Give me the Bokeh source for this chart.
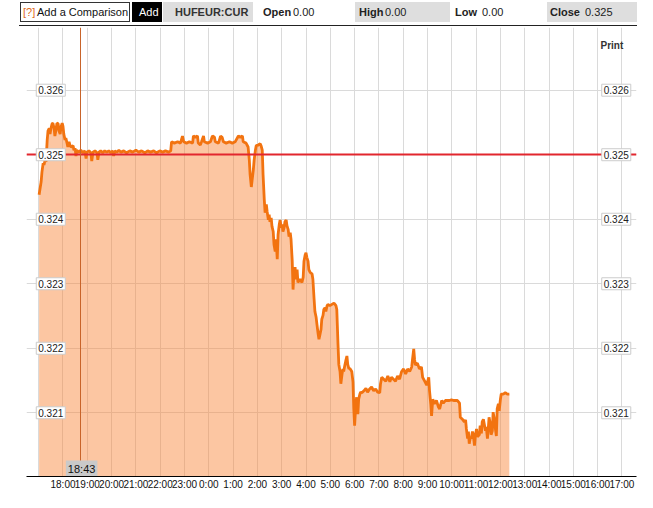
import numpy as np
from bokeh.plotting import figure
from bokeh.models import Range1d, FixedTicker, Grid, Div
from bokeh.layouts import column
from bokeh.core.properties import value
from bokeh.embed import file_html
from bokeh.resources import INLINE

# ---------------- data ----------------
# minutes since 18:00 (day 1) and HUF/EUR rate
minutes_since_1800 = [
    -59, -57, -54, -52, -49, -47, -44, -42, -39, -37, -34, -32, -30, -27, -25, -22, -20, -17, -15, -12,
    -10, -7, -5, -2, 0, 2, 5, 7, 10, 12, 15, 17, 20, 25, 27, 30, 32, 34, 39, 44,
    49, 54, 57, 59, 64, 69, 71, 74, 79, 84, 86, 89, 93, 98, 103, 108, 113, 118, 123, 125,
    128, 133, 138, 143, 150, 157, 165, 172, 180, 187, 194, 202, 209, 216, 224, 231, 239, 246, 253, 261,
    266, 268, 275, 283, 290, 295, 298, 305, 312, 320, 322, 327, 332, 334, 339, 342, 347, 349, 357, 364,
    369, 374, 376, 384, 389, 393, 396, 403, 411, 418, 425, 433, 438, 443, 445, 452, 457, 460, 462, 465,
    467, 470, 472, 475, 477, 482, 487, 489, 492, 494, 497, 499, 502, 504, 507, 509, 511, 514, 516, 519,
    521, 524, 526, 529, 531, 534, 536, 539, 541, 543, 546, 548, 551, 553, 556, 558, 561, 563, 566, 568,
    570, 573, 575, 578, 580, 585, 590, 593, 595, 598, 600, 602, 605, 607, 610, 615, 617, 620, 622, 625,
    627, 630, 632, 634, 637, 639, 642, 644, 647, 649, 652, 654, 659, 664, 669, 674, 676, 679, 681, 684,
    686, 689, 691, 693, 696, 698, 701, 703, 706, 708, 713, 716, 718, 720, 723, 725, 728, 730, 733, 735,
    738, 743, 748, 752, 757, 762, 767, 772, 777, 782, 784, 787, 792, 797, 802, 807, 811, 816, 821, 826,
    831, 836, 841, 846, 851, 856, 861, 863, 866, 868, 870, 875, 880, 885, 888, 893, 898, 903, 905, 908,
    910, 913, 917, 922, 927, 930, 935, 939, 944, 949, 954, 959, 966, 974, 979, 981, 986, 991, 994, 996,
    999, 1001, 1003, 1006, 1008, 1011, 1013, 1016, 1018, 1021, 1023, 1028, 1030, 1033, 1035, 1038, 1040, 1043, 1045, 1048,
    1050, 1052, 1055, 1057, 1060, 1062, 1065, 1067, 1070, 1072, 1075, 1077, 1080, 1082, 1087, 1092, 1097, 1102,
]
rate = [
    0.32438, 0.32446, 0.32458, 0.32473, 0.32487, 0.32484, 0.32492, 0.32489, 0.32523, 0.32537, 0.32541, 0.32532, 0.32540, 0.32548, 0.32549, 0.32541, 0.32529, 0.32540, 0.32549, 0.32548,
    0.32537, 0.32532, 0.32543, 0.32549, 0.32544, 0.32532, 0.32523, 0.32526, 0.32518, 0.32512, 0.32520, 0.32515, 0.32512, 0.32514, 0.32507, 0.32510, 0.32498, 0.32507, 0.32504, 0.32507,
    0.32503, 0.32506, 0.32494, 0.32504, 0.32506, 0.32503, 0.32490, 0.32504, 0.32506, 0.32503, 0.32492, 0.32504, 0.32506, 0.32503, 0.32506, 0.32504, 0.32506, 0.32503, 0.32506, 0.32498,
    0.32506, 0.32504, 0.32507, 0.32504, 0.32506, 0.32503, 0.32506, 0.32504, 0.32507, 0.32504, 0.32506, 0.32503, 0.32506, 0.32504, 0.32506, 0.32503, 0.32506, 0.32504, 0.32506, 0.32504,
    0.32506, 0.32520, 0.32518, 0.32520, 0.32518, 0.32529, 0.32520, 0.32518, 0.32520, 0.32518, 0.32529, 0.32527, 0.32529, 0.32518, 0.32515, 0.32520, 0.32529, 0.32520, 0.32518, 0.32520,
    0.32529, 0.32527, 0.32520, 0.32518, 0.32529, 0.32527, 0.32520, 0.32518, 0.32520, 0.32518, 0.32520, 0.32529, 0.32527, 0.32529, 0.32520, 0.32518, 0.32512, 0.32492, 0.32469, 0.32450,
    0.32461, 0.32477, 0.32492, 0.32507, 0.32514, 0.32515, 0.32517, 0.32514, 0.32507, 0.32469, 0.32430, 0.32410, 0.32423, 0.32412, 0.32399, 0.32407, 0.32396, 0.32402, 0.32389, 0.32381,
    0.32361, 0.32350, 0.32369, 0.32338, 0.32376, 0.32392, 0.32399, 0.32387, 0.32392, 0.32381, 0.32387, 0.32396, 0.32399, 0.32390, 0.32384, 0.32373, 0.32379, 0.32369, 0.32335, 0.32291,
    0.32315, 0.32326, 0.32307, 0.32322, 0.32302, 0.32307, 0.32302, 0.32310, 0.32335, 0.32345, 0.32348, 0.32341, 0.32335, 0.32322, 0.32318, 0.32315, 0.32307, 0.32276, 0.32257, 0.32248,
    0.32237, 0.32222, 0.32214, 0.32220, 0.32229, 0.32245, 0.32251, 0.32260, 0.32263, 0.32257, 0.32266, 0.32268, 0.32266, 0.32268, 0.32270, 0.32266, 0.32260, 0.32206, 0.32175, 0.32164,
    0.32145, 0.32160, 0.32168, 0.32164, 0.32174, 0.32180, 0.32188, 0.32175, 0.32168, 0.32169, 0.32164, 0.32148, 0.32106, 0.32080, 0.32114, 0.32124, 0.32098, 0.32121, 0.32129, 0.32132,
    0.32131, 0.32134, 0.32138, 0.32132, 0.32137, 0.32140, 0.32134, 0.32137, 0.32132, 0.32131, 0.32145, 0.32155, 0.32152, 0.32149, 0.32157, 0.32148, 0.32155, 0.32152, 0.32149, 0.32157,
    0.32152, 0.32164, 0.32168, 0.32160, 0.32168, 0.32164, 0.32171, 0.32183, 0.32199, 0.32183, 0.32174, 0.32177, 0.32168, 0.32171, 0.32155, 0.32149, 0.32143, 0.32155, 0.32134, 0.32114,
    0.32095, 0.32121, 0.32114, 0.32119, 0.32109, 0.32106, 0.32119, 0.32115, 0.32119, 0.32119, 0.32119, 0.32120, 0.32119, 0.32119, 0.32115, 0.32093, 0.32090, 0.32086, 0.32089, 0.32075,
    0.32060, 0.32071, 0.32052, 0.32063, 0.32060, 0.32071, 0.32066, 0.32049, 0.32064, 0.32075, 0.32063, 0.32066, 0.32080, 0.32068, 0.32086, 0.32090, 0.32083, 0.32072, 0.32078, 0.32060,
    0.32075, 0.32093, 0.32083, 0.32066, 0.32072, 0.32101, 0.32090, 0.32078, 0.32064, 0.32106, 0.32114, 0.32103, 0.32121, 0.32129, 0.32129, 0.32131, 0.32129, 0.32129,
]

y_ticks = [0.321, 0.322, 0.323, 0.324, 0.325, 0.326]
y_tick_labels = ["0.321", "0.322", "0.323", "0.324", "0.325", "0.326"]

hour_ticks = list(range(-1, 24))  # hours relative to 18:00
hour_labels = ["", "18:00", "19:00", "20:00", "21:00", "22:00", "23:00",
               "0:00", "1:00", "2:00", "3:00", "4:00", "5:00", "6:00", "7:00", "8:00",
               "9:00", "10:00", "11:00", "12:00", "13:00", "14:00", "15:00", "16:00", "17:00"]

previous_close = 0.325
cursor_minutes = 43
cursor_label = "18:43"

ticker_symbol = "HUFEUR:CUR"
field_names = ["Open", "High", "Low", "Close"]
field_values = ["0.00", "0.00", "0.00", "0.325"]

FONT = value("Liberation Sans")
W = 637

# ---------------- header (HTML) ----------------
def box(left, width, bg, border="none"):
    return (f'<div style="position:absolute;left:{left}px;top:2px;width:{width}px;height:20px;'
            f'background:{bg};border:{border};box-sizing:border-box;"></div>')

def txt(left, s, color="#222", bold=False):
    fw = "bold" if bold else "normal"
    return (f'<span style="position:absolute;left:{left}px;top:2px;height:20px;line-height:20px;'
            f'color:{color};font-weight:{fw};white-space:nowrap;">{s}</span>')

field_box = {"High": 355, "Close": 547}
name_left = [263, 359, 455, 550]
val_left = [293, 385, 482, 585]
parts = [box(20, 110, "#ffffff", "1px solid #333"),
         txt(23, "[?]", "#E06A1A"), txt(37, "Add a Comparison", "#111"),
         box(132, 30, "#000000"), txt(139, "Add", "#ffffff"),
         box(163, 90, "#DEDEDE"), txt(175, ticker_symbol, "#333", True)]
for name, left in field_box.items():
    parts.append(box(left, 95, "#DEDEDE"))
for name, val, nl, vl in zip(field_names, field_values, name_left, val_left):
    parts.append(txt(nl, name, "#222", True))
    parts.append(txt(vl, val, "#222"))
parts.append('<div style="position:absolute;left:19px;top:25px;width:618px;height:1px;background:#222;"></div>')
html = ('<div style="position:relative;width:637px;height:27px;overflow:hidden;'
        'font-family:\'Liberation Sans\',Arial,sans-serif;font-size:11px;">' + "".join(parts) + '</div>')
hdr = Div(text=html, width=W, height=27, margin=0)

# ---------------- chart ----------------
x_hours = np.array(minutes_since_1800) / 60.0
y0 = 0.3200123
y1 = 0.326972

p = figure(width=W, height=465, output_backend="svg", toolbar_location=None,
           x_range=Range1d(-1.502, 23.6), y_range=Range1d(y0, y1),
           y_axis_location=None,
           min_border_left=26, min_border_right=1, min_border_top=0, min_border_bottom=14)
p.outline_line_color = None
p.grid.visible = False
p.add_layout(Grid(dimension=0, ticker=FixedTicker(ticks=hour_ticks),
                  grid_line_color="#DADADA", grid_line_width=1), "center")
p.add_layout(Grid(dimension=1, ticker=FixedTicker(ticks=y_ticks),
                  grid_line_color="#DADADA", grid_line_width=1), "center")

ax = p.xaxis[0]
ax.ticker = FixedTicker(ticks=hour_ticks)
ax.major_label_overrides = {t: l for t, l in zip(hour_ticks, hour_labels)}
ax.axis_line_color = "black"
ax.axis_line_width = 1
ax.major_tick_line_color = None
ax.minor_tick_line_color = None
ax.major_tick_out = 0
ax.major_tick_in = 0
ax.major_label_standoff = 2
ax.major_label_text_font = "Liberation Sans"
ax.major_label_text_font_size = "10px"
ax.major_label_text_color = "#111111"

p.varea(x=x_hours, y1=y0, y2=rate, fill_color="#F88030", fill_alpha=0.45)
p.line(x_hours, rate, line_color="#F27310", line_width=2.8)
p.hspan(y=[previous_close], line_color="#E2262E", line_width=2)
p.vspan(x=[cursor_minutes / 60.0], line_color="#C8642A", line_width=1)

label_kw = dict(text_font=FONT, text_font_size="10px", text_color="#222222",
                text_align="left", text_baseline="middle",
                background_fill_color="white", border_line_color="#CCCCCC", padding=2)
p.text(x=[-1.1] * len(y_ticks), y=y_ticks, text=y_tick_labels, **label_kw)
p.text(x=[22.17] * len(y_ticks), y=y_ticks, text=y_tick_labels, **label_kw)

p.text(x=[22.12], y=[0.32669], text=["Print"], text_font=FONT, text_font_size="10px",
       text_font_style="bold", text_color="#333333", text_align="left", text_baseline="middle")

p.text(x=[cursor_minutes / 60.0 + 0.05], y=[y0], text=[cursor_label], text_font=FONT,
       text_font_size="11px", text_color="#111111", text_align="center",
       text_baseline="bottom", background_fill_color="#C9C9C9", padding=2)

layout = column(hdr, p, spacing=0)
open("out.html", "w").write(file_html(layout, INLINE))
